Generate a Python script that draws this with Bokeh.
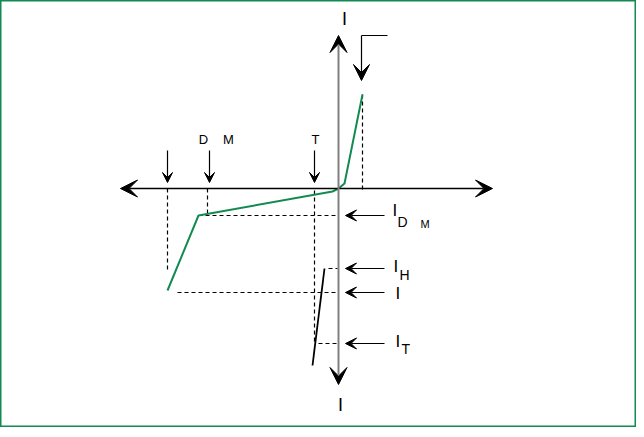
from bokeh.plotting import figure
from bokeh.models import Range1d, Arrow, VeeHead
from bokeh.core.properties import value
from bokeh.embed import file_html
from bokeh.resources import INLINE

# ---- data (V horizontal, I vertical; origin at the axes crossing) ----
v_curve = [-171, -140, -6, 0, 6, 24]      # green V-I characteristic
i_curve = [-102, -27, -3, 0, 5, 94]
v_snap = [-14, -26]                        # black snap-back segment
i_snap = [-80, -177]

V_B = -171      # left-most marked voltage
V_DRM = -131
V_T = -24
V_F = 24        # forward marked voltage
I_F = 94

I_DRM = -27
I_H = -80
I_L = -104
I_T = -155

GREEN = "#138a52"
FONT = value("Liberation Sans")

p = figure(width=636, height=427, x_range=Range1d(-338, 298), y_range=Range1d(-239, 188),
           output_backend="svg", toolbar_location=None, min_border=0,
           x_axis_location=None, y_axis_location=None)
p.grid.visible = False
p.outline_line_color = GREEN
p.outline_line_width = 2
p.background_fill_color = "white"

# axes as arrows
p.add_layout(Arrow(x_start=-218, y_start=0, x_end=154, y_end=0, line_color="black", line_width=1.5,
                   start=VeeHead(size=17, fill_color="black", line_color="black"),
                   end=VeeHead(size=17, fill_color="black", line_color="black")))
p.add_layout(Arrow(x_start=0, y_start=-196, x_end=0, y_end=153, line_color="#808080", line_width=2,
                   start=VeeHead(size=17, fill_color="black", line_color="black"),
                   end=VeeHead(size=17, fill_color="black", line_color="black")))

dash = "4 3"
# vertical dashed drop lines
for vx, y0, y1 in [(V_F, I_F, -4), (V_B, 0, -84), (V_DRM, 0, I_DRM), (V_T, -2, -156)]:
    p.line([vx, vx], [y0, y1], line_color="black", line_width=1.2, line_dash=dash)
# horizontal dashed level lines
for iy, x0 in [(I_DRM, -140), (I_H, -10), (I_L, -161), (I_T, -20)]:
    p.line([x0, -1], [iy, iy], line_color="black", line_width=1.2, line_dash=dash)

# curves
p.line(v_curve, i_curve, line_color=GREEN, line_width=2)
p.line(v_snap, i_snap, line_color="black", line_width=1.8)

small = dict(size=10, fill_color="black", line_color="black")
# down arrows above horizontal axis
for vx in [V_B, V_DRM + 2, V_T + 0]:
    p.add_layout(Arrow(x_start=vx, y_start=38, x_end=vx, y_end=6, line_color="black", line_width=1.2,
                       end=VeeHead(**small)))
# top-right bent arrow
p.line([V_F - 1, V_F + 25], [153, 153], line_color="black", line_width=1.2)
p.add_layout(Arrow(x_start=V_F - 1, y_start=153, x_end=V_F - 1, y_end=108, line_color="black", line_width=1.2,
                   end=VeeHead(size=16, fill_color="black", line_color="black")))
# left arrows at the current levels
for iy in [I_DRM, I_H, I_L, I_T]:
    p.add_layout(Arrow(x_start=46, y_start=iy, x_end=7, y_end=iy, line_color="black", line_width=1.2,
                       end=VeeHead(size=11, fill_color="black", line_color="black")))

# labels
def txt(x, y, s, size, align="left"):
    p.text(x=[x], y=[y], text=[s], text_font=FONT, text_font_size=f"{size}px",
           text_align=align, text_baseline="middle", text_color="black")

txt(6, 170, "I", 18, "center")
txt(2, -216, "I", 18, "center")
txt(V_DRM - 4, 49, "D", 13, "center")
txt(V_DRM + 21, 49, "M", 13, "center")
txt(V_T + 1, 49, "T", 13, "center")

txt(54, I_DRM + 5, "I", 17)
txt(59, I_DRM - 6, "D", 14)
txt(82, I_DRM - 8, "M", 11)
txt(55, I_H + 2, "I", 17)
txt(61, I_H - 6, "H", 14)
txt(57, I_L - 1, "I", 17)
txt(57, I_T + 2, "I", 17)
txt(63, I_T - 5, "T", 14)

open("out.html", "w").write(file_html(p, INLINE))
